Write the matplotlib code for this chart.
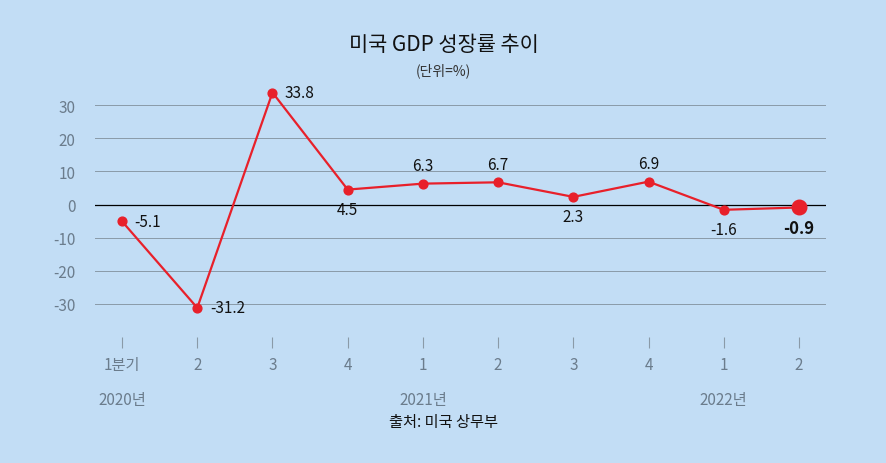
import matplotlib
matplotlib.use("Agg")
import matplotlib.pyplot as plt

plt.rcParams["font.family"] = "Noto Sans CJK KR"

quarters = ["1분기", "2", "3", "4", "1", "2", "3", "4", "1", "2"]
years = ["2020년", "2021년", "2022년"]
year_pos = [0, 4, 8]
growth = [-5.1, -31.2, 33.8, 4.5, 6.3, 6.7, 2.3, 6.9, -1.6, -0.9]
label_pos = ["right", "right", "right", "below", "above", "above", "below", "above", "below", "below"]
yticks = [30, 20, 10, 0, -10, -20, -30]

bg = "#C2DDF5"
fig = plt.figure(figsize=(8.87, 4.64), dpi=100, facecolor=bg)
ax = fig.add_axes([95/887, 1-338/464, 731/887, 265/464], facecolor=bg)
x = list(range(len(growth)))
ax.set_xlim(-0.36, 9.36)
ax.set_ylim(-40, 40)
for t in yticks:
    ax.axhline(t, color="#000000" if t == 0 else "#8a9aa8", lw=0.9 if t == 0 else 0.7, zorder=1)
ax.plot(x, growth, color="#E8202A", lw=1.6, zorder=3)
ax.scatter(x[:-1], growth[:-1], s=40, color="#E8202A", zorder=4)
ax.scatter(x[-1:], growth[-1:], s=110, color="#E8202A", zorder=4)
for i, (v, p) in enumerate(zip(growth, label_pos)):
    bold = i == len(growth) - 1
    kw = dict(fontsize=11 if not bold else 12, fontweight="bold" if bold else "normal", color="#111111")
    if p == "right":
        ax.annotate(f"{v}", (i, v), xytext=(9, 0), textcoords="offset points", ha="left", va="center", **kw)
    elif p == "above":
        ax.annotate(f"{v}", (i, v), xytext=(0, 7), textcoords="offset points", ha="center", va="bottom", **kw)
    else:
        ax.annotate(f"{v}", (i, v), xytext=(0, -8), textcoords="offset points", ha="center", va="top", **kw)
for s in ax.spines.values():
    s.set_visible(False)
ax.set_yticks(yticks)
ax.set_yticklabels([str(t) for t in yticks])
ax.tick_params(axis="y", length=0, labelsize=11, labelcolor="#6b7c8c", pad=14)
ax.set_xticks(x)
ax.set_xticklabels(quarters)
ax.tick_params(axis="x", length=8, color="#8a9aa8", labelsize=11, labelcolor="#6b7c8c", pad=6)
for p, yl in zip(year_pos, years):
    ax.annotate(yl, (p, 0), xycoords=("data", "axes fraction"), xytext=(0, -45),
                textcoords="offset points", ha="center", va="center", fontsize=11, color="#6b7c8c")
fig.text(0.5, 1-45/464, "미국 GDP 성장률 추이", ha="center", va="center", fontsize=15, color="#111111")
fig.text(0.5, 1-71/464, "(단위=%)", ha="center", va="center", fontsize=10, color="#333333")
fig.text(0.5, 1-423/464, "출처: 미국 상무부", ha="center", va="center", fontsize=11, color="#111111")
fig.savefig("out.png", dpi=100, facecolor=bg)
